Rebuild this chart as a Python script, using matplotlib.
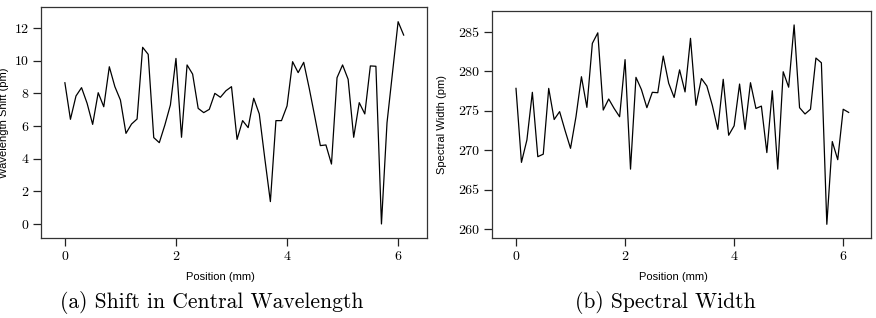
import numpy as np
import matplotlib
matplotlib.use("Agg")
import matplotlib.pyplot as plt

# posiciones (mm), paso de 0.1 mm
position = np.round(np.arange(0, 62) * 0.1, 1)

# desplazamiento de la longitud de onda central (pm)
wavelength_shift = [
    8.65, 6.41, 7.84, 8.35, 7.39, 6.10, 8.04, 7.18, 9.63, 8.41,
    7.59, 5.55, 6.12, 6.43, 10.82, 10.39, 5.29, 4.98, 6.06, 7.29,
    10.14, 5.31, 9.74, 9.18, 7.08, 6.82, 7.02, 8.00, 7.76, 8.16,
    8.41, 5.18, 6.33, 5.90, 7.70, 6.74, 4.00, 1.37, 6.33, 6.33,
    7.23, 9.94, 9.27, 9.90, 8.30, 6.57, 4.80, 4.84, 3.67, 8.96,
    9.74, 8.86, 5.31, 7.43, 6.74, 9.68, 9.66, 0.00, 6.20, 9.30,
    12.39, 11.57,
]

# ancho espectral (pm)
spectral_width = [
    277.85, 268.46, 271.30, 277.35, 269.18, 269.50, 277.85, 273.90, 274.90, 272.50,
    270.24, 274.25, 279.33, 275.44, 283.56, 284.90, 275.10, 276.50, 275.30, 274.25,
    281.50, 267.60, 279.25, 277.70, 275.40, 277.35, 277.30, 281.95, 278.50, 276.70,
    280.20, 277.40, 284.20, 275.70, 279.10, 278.15, 275.70, 272.65, 279.00, 271.90,
    273.10, 278.40, 272.65, 278.57, 275.30, 275.60, 269.70, 277.55, 267.60, 279.96,
    278.00, 285.90, 275.40, 274.60, 275.20, 281.70, 281.10, 260.60, 271.10, 268.80,
    275.20, 274.80,
]

x_ticks = [0, 2, 4, 6]
shift_ticks = [0, 2, 4, 6, 8, 10, 12]
width_ticks = [260, 265, 270, 275, 280, 285]

serif = "cmr10"
sans = "Liberation Sans"


def estilo_eje(ax, yticks, xlim, ylim):
    """caja, ticks hacia afuera y numeros con fuente serif"""
    ax.set_xlim(*xlim)
    ax.set_ylim(*ylim)
    ax.set_xticks(x_ticks)
    ax.set_yticks(yticks)
    ax.set_xticklabels([str(t) for t in x_ticks], fontfamily=serif, fontsize=10)
    ax.set_yticklabels([str(t) for t in yticks], fontfamily=serif, fontsize=10)
    ax.tick_params(direction="out", length=6, width=0.9, color="#222222", pad=3)
    for s in ax.spines.values():
        s.set_linewidth(0.9)
        s.set_color("#333333")


fig = plt.figure(figsize=(8.76, 3.18), dpi=100)

ax1 = fig.add_axes([41 / 876, 1 - 238 / 318, 386 / 876, 231 / 318])
ax1.plot(position, wavelength_shift, color="black", linewidth=0.9)
estilo_eje(ax1, shift_ticks, (-0.43, 6.52), (-0.86, 13.29))
ax1.set_xlabel("Position (mm)", fontfamily=sans, fontsize=8)
ax1.set_ylabel("Wavelength Shift (pm)", fontfamily=sans, fontsize=8)
ax1.xaxis.set_label_coords(0.466, -0.147)
ax1.yaxis.set_label_coords(-0.083, 0.5)

ax2 = fig.add_axes([492 / 876, 1 - 238 / 318, 379 / 876, 227 / 318])
ax2.plot(position, spectral_width, color="black", linewidth=0.9)
estilo_eje(ax2, width_ticks, (-0.44, 6.51), (258.86, 287.67))
ax2.set_xlabel("Position (mm)", fontfamily=sans, fontsize=8)
ax2.set_ylabel("Spectral Width (pm)", fontfamily=sans, fontsize=8)
ax2.xaxis.set_label_coords(0.478, -0.15)
ax2.yaxis.set_label_coords(-0.119, 0.5)

# subtitulos de las subfiguras
fig.text(212 / 876, 1 - 303 / 318, "(a) Shift in Central Wavelength",
         fontfamily=serif, fontsize=15.5, ha="center", va="center")
fig.text(665 / 876, 1 - 303 / 318, "(b) Spectral Width",
         fontfamily=serif, fontsize=15.5, ha="center", va="center")

fig.savefig("out.png", dpi=100)
plt.close(fig)
